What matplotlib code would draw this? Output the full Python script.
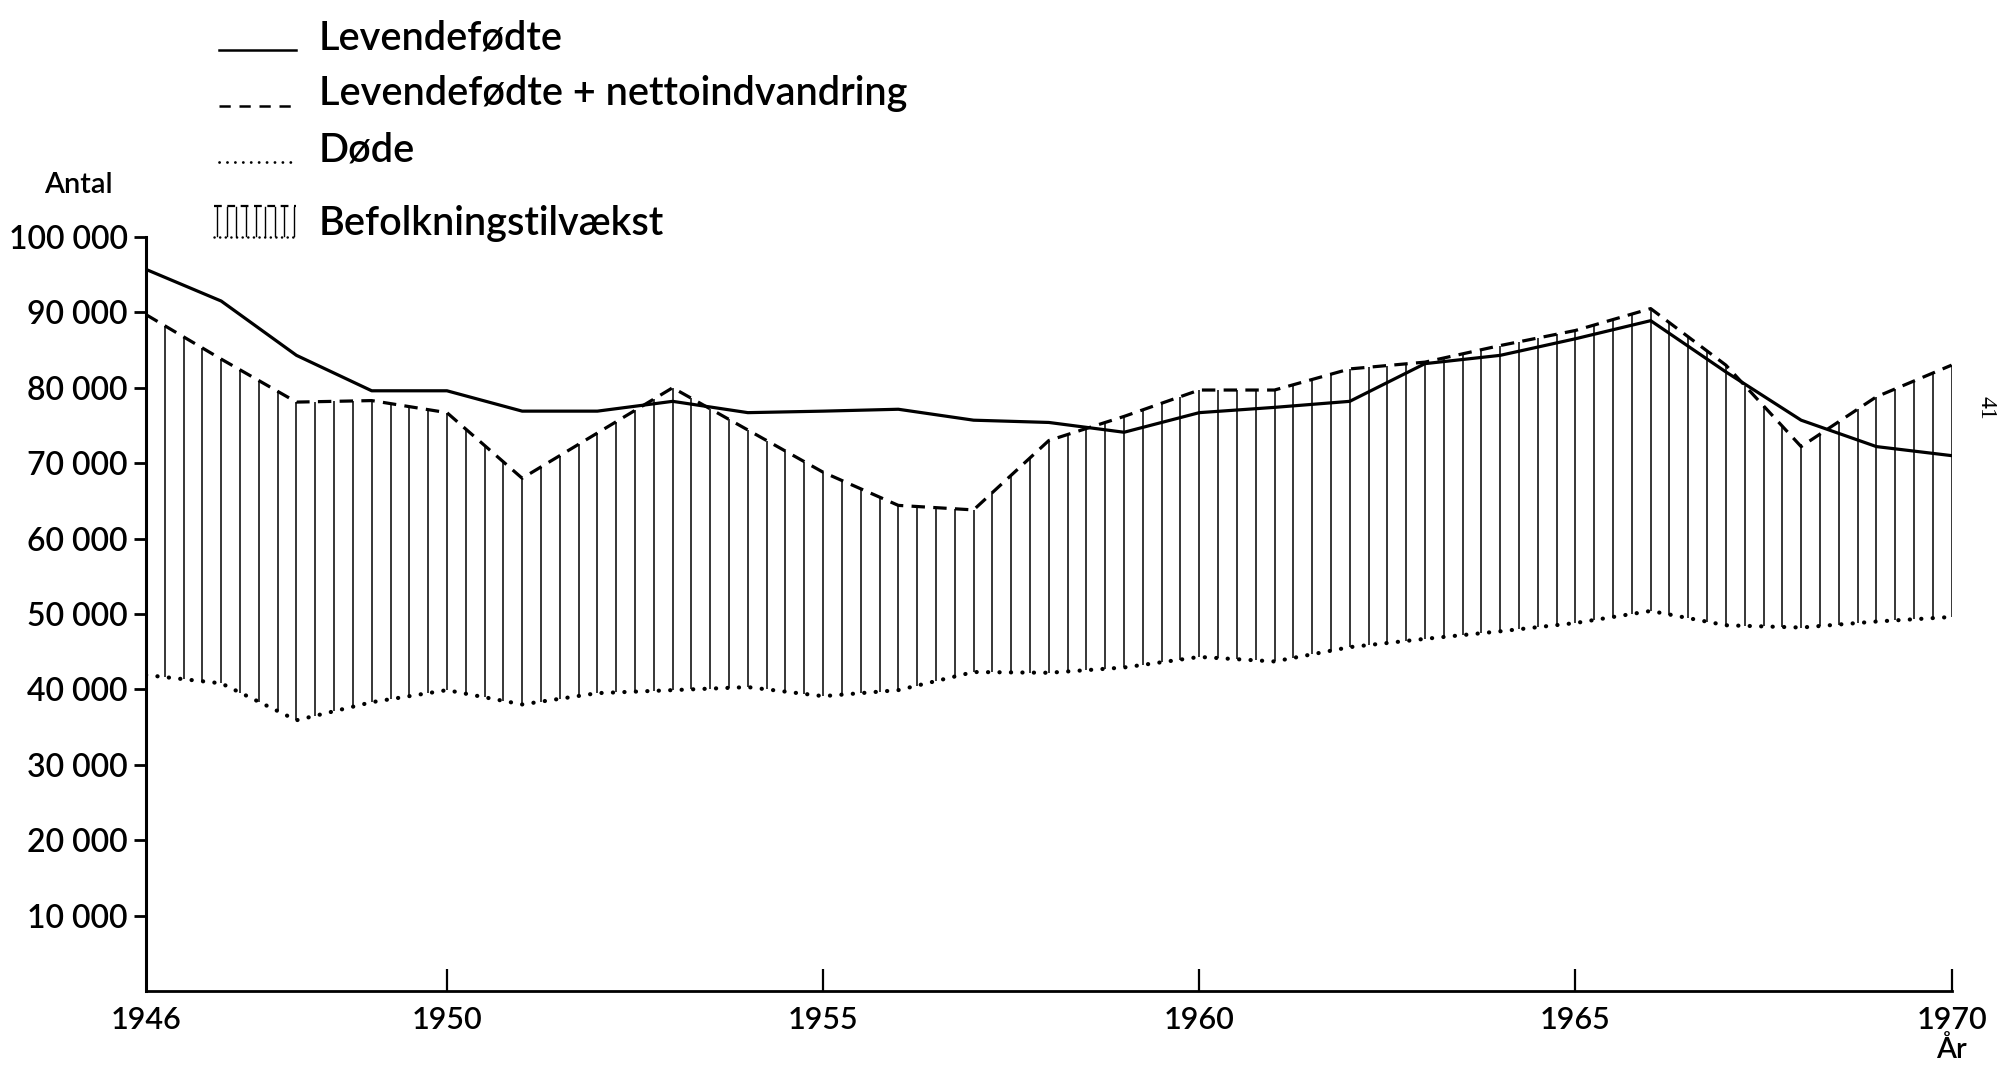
import numpy as np
import matplotlib
matplotlib.use("Agg")
import matplotlib.pyplot as plt
from matplotlib.lines import Line2D

# ---------------- data ----------------
years = list(range(1946, 1971))
levendefodte = [95700, 91500, 84300, 79600, 79600, 76900, 76900, 78200, 76700, 76900,
                77150, 75700, 75400, 74100, 76700, 77400, 78200, 83200, 84300, 86500,
                88900, 82100, 75700, 72200, 71000]
lev_plus_netto = [89700, 83800, 78100, 78300, 76700, 68000, 74000, 80000, 74400, 68800,
                  64400, 63800, 73000, 76200, 79700, 79700, 82500, 83400, 85600, 87600,
                  90500, 83000, 72200, 78800, 83000]
dode = [41900, 40800, 35900, 38300, 39900, 38000, 39500, 39900, 40300, 39100,
        39900, 42300, 42200, 42900, 44300, 43700, 45600, 46700, 47700, 48800,
        50400, 48500, 48200, 49000, 49600]

x_ticks = [1946, 1950, 1955, 1960, 1965, 1970]
y_ticks = [10000, 20000, 30000, 40000, 50000, 60000, 70000, 80000, 90000, 100000]
y_labels = ["10 000", "20 000", "30 000", "40 000", "50 000", "60 000",
            "70 000", "80 000", "90 000", "100 000"]
legend_labels = ["Levendefødte", "Levendefødte + nettoindvandring", "Døde",
                 "Befolkningstilvækst"]

FONT = ["Lato", "DejaVu Sans"]
plt.rcParams["font.family"] = FONT
WEIGHT = "semibold"

fig = plt.figure(figsize=(20, 10.66), dpi=100)
ax = fig.add_axes([0.073, 0.0704, 0.9028, 0.7073])
ax.set_xlim(1946, 1970)
ax.set_ylim(0, 100000)

# hatching (population growth) : vertical lines every quarter year
hx = np.arange(1946.25, 1970.001, 0.25)
top = np.interp(hx, years, lev_plus_netto)
bot = np.interp(hx, years, dode)
ax.vlines(hx, bot, top, color="black", lw=1.1)

ax.plot(years, levendefodte, color="black", lw=2.3, solid_joinstyle="round")
ax.plot(years, lev_plus_netto, color="black", lw=2.3, linestyle=(0, (4.2, 2.6)),
        dash_capstyle="butt")
ax.plot(years, dode, color="black", lw=3.0, linestyle=(0, (0.05, 2.7)),
        dash_capstyle="round")

for s in ["top", "right"]:
    ax.spines[s].set_visible(False)
ax.spines["left"].set_linewidth(2.2)
ax.spines["bottom"].set_linewidth(2.0)

ax.set_xticks(x_ticks)
ax.set_xticklabels([str(v) for v in x_ticks], fontsize=22, fontweight=WEIGHT)
ax.tick_params(axis="x", direction="in", length=16, width=1.6, pad=11)
ax.xaxis.get_major_ticks()[0].tick1line.set_visible(False)

ax.set_yticks(y_ticks)
ax.set_yticklabels(y_labels, fontsize=23, fontweight=WEIGHT)
ax.tick_params(axis="y", direction="out", length=9, width=2.0, pad=4)

# axis captions
fig.text(0.039, 0.826, "Antal", fontsize=21, fontweight=WEIGHT, ha="center", va="center")
fig.text(0.9755, 0.003, "År", fontsize=21, fontweight=WEIGHT, ha="center", va="bottom")
fig.text(0.993, 0.617, "41", fontsize=17, ha="center", va="center", rotation=270,
         family=["Liberation Serif", "DejaVu Serif"])

# ---------------- legend (drawn manually) ----------------
W, H = 2000, 1066
def fx(px):
    return px / W
def fy(py):
    return 1 - py / H

rows_text_y = [38, 94, 150, 224]
sample_y = [50, 106, 162]
x0, x1 = 219, 296
fig.add_artist(Line2D([fx(x0), fx(x1)], [fy(sample_y[0])] * 2, color="black", lw=1.8))
fig.add_artist(Line2D([fx(x0), fx(x1)], [fy(sample_y[1])] * 2, color="black", lw=1.8,
                      linestyle=(0, (4.5, 3.5))))
fig.add_artist(Line2D([fx(x0), fx(x1)], [fy(sample_y[2])] * 2, color="black", lw=2.0,
                      linestyle=(0, (0.05, 2.8)), dash_capstyle="round"))
# hatch symbol
hxs = np.linspace(217, 294, 9)
for xv in hxs:
    fig.add_artist(Line2D([fx(xv)] * 2, [fy(236), fy(207)], color="black", lw=1.0))
fig.add_artist(Line2D([fx(214), fx(296)], [fy(206)] * 2, color="black", lw=1.6,
                      linestyle=(0, (3.5, 2.5))))
fig.add_artist(Line2D([fx(214), fx(296)], [fy(237)] * 2, color="black", lw=1.8,
                      linestyle=(0, (0.05, 2.2)), dash_capstyle="round"))

for lab, yy in zip(legend_labels, rows_text_y):
    fig.text(fx(319), fy(yy), lab, fontsize=28.5, fontweight=WEIGHT, ha="left", va="center")

fig.savefig("out.png", dpi=100)
